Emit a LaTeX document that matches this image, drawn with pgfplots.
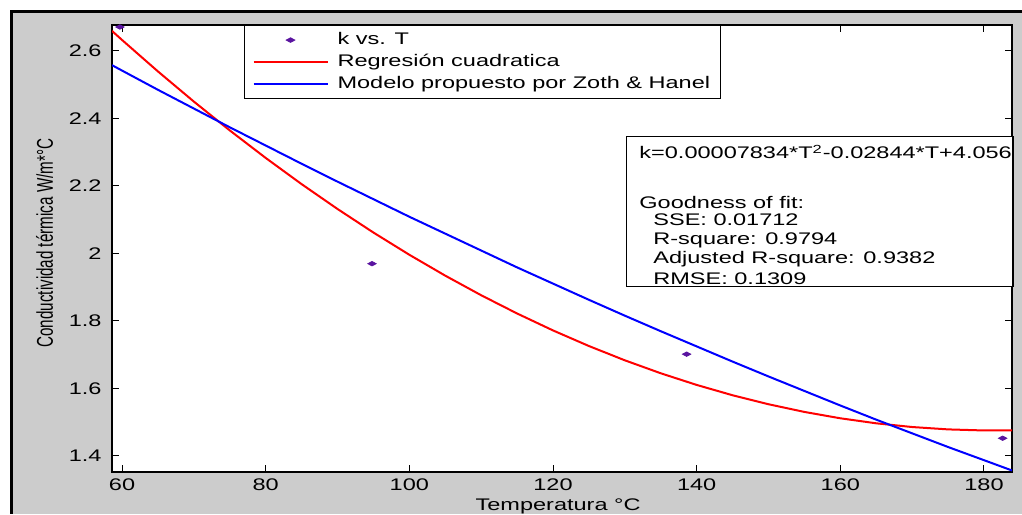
\documentclass[border=0pt]{standalone}
\usepackage{fontspec}
\setmainfont{Liberation Sans}[FakeStretch=1.4]
\newfontfamily\labelfont{Liberation Sans}
\usepackage{pgfplots}
\pgfplotsset{compat=1.18}

\definecolor{figgray}{RGB}{204,204,204}
\definecolor{markpurple}{RGB}{90,20,160}

\pgfplotsset{
  lineleg/.style={legend image code/.code={\draw[##1] (0pt,0pt) -- (37pt,0pt);}},
  markleg/.style={legend image code/.code={\draw[##1] plot coordinates {(18.5pt,0pt)};}},
}

\begin{document}
\begin{tikzpicture}[x=1pt,y=1pt]
\useasboundingbox (0,0) rectangle (511,257);
% window background and frame
\fill[white] (0,0) rectangle (511,257);
\fill[figgray] (6.5,0) rectangle (511,250.5);
\fill[black] (5,0) rectangle (6.5,252);
\fill[black] (5,250.5) rectangle (511,252);

\begin{axis}[
  at={(56pt,21pt)}, anchor=south west,
  width=450pt, height=223.5pt, scale only axis,
  xmin=58.6, xmax=183.9, ymin=1.352, ymax=2.676,
  xtick={60,80,100,120,140,160,180},
  ytick={1.4,1.6,1.8,2,2.2,2.4,2.6},
  tick align=inside, major tick length=3.5pt,
  every tick/.style={black, line width=0.5pt},
  axis line style={black, line width=0.9pt},
  axis background/.style={fill=white},
  /pgf/number format/assume math mode=true,
  ticklabel style={font=\fontsize{8.4}{10}\selectfont},
  yticklabel style={xshift=-1.7pt},
  xlabel={Temperatura °C},
  xlabel style={font=\fontsize{8.4}{10}\selectfont, at={(axis description cs:0.4956,-0.076)}, anchor=center},
  ylabel={\scalebox{1}[1.5]{\labelfont\fontsize{7.6}{9}\selectfont Conductividad térmica W/m*°C}},
  ylabel style={at={(axis description cs:-0.075,0.512)}, anchor=center, rotate=0},
  legend style={at={(rel axis cs:0.1467,1)}, anchor=north west,
    draw=black, line width=0.5pt, fill=white,
    font=\fontsize{8.4}{10}\selectfont,
    inner xsep=4pt, inner ysep=2.5pt, column sep=3.5pt, row sep=1.3pt,
    nodes={inner sep=1pt, text depth=0.15em}},
  legend cell align=left,
]

% measured points
\addplot[only marks, mark=diamond*, mark size=1.1pt, color=markpurple,
  mark options={xscale=2.5}, markleg]
  coordinates {(59.7,2.670) (94.8,1.969) (138.6,1.701) (182.6,1.452)};
\addlegendentry{k vs. T}

% quadratic fit
\addplot[red, line width=1pt, lineleg]
  coordinates {
  (58.6,2.6584) (60,2.6316) (65,2.5384) (70,2.4491) (75,2.3637)
  (80,2.2822) (85,2.2046) (90,2.1310) (95,2.0612) (100,1.9954)
  (105,1.9335) (110,1.8755) (115,1.8215) (120,1.7713) (125,1.7251)
  (130,1.6828) (135,1.6444) (140,1.6099) (145,1.5793) (150,1.5527)
  (155,1.5299) (160,1.5111) (165,1.4962) (170,1.4852) (175,1.4782)
  (180,1.4750) (183.9,1.4753)};
\addlegendentry{Regresión cuadratica}

% Zoth & Hanel model
\addplot[blue, line width=1pt, lineleg]
  coordinates {
  (58.6,2.557) (60,2.541) (65,2.484) (70,2.4285) (75,2.373)
  (80,2.319) (85,2.265) (90,2.212) (95,2.160) (100,2.108)
  (105,2.058) (110,2.008) (115,1.958) (120,1.910) (125,1.862)
  (130,1.815) (135,1.769) (140,1.724) (145,1.679) (150,1.635)
  (155,1.592) (160,1.549) (165,1.507) (170,1.4665) (175,1.426)
  (180,1.387) (183.9,1.3565)};
\addlegendentry{Modelo propuesto por Zoth \& Hanel}
\end{axis}

% fit summary box
\draw[black, line width=0.5pt, fill=white] (313,113.5) rectangle (506.5,188.5);
\draw[black, line width=1.2pt] (506.5,113.5) -- (506.5,188.5);
\begin{scope}[every node/.style={anchor=west, inner sep=0pt, font=\fontsize{8.4}{10}\selectfont}]
\node at (319.5,181) {k=0.00007834*T\textsuperscript{2}-0.02844*T+4.056};
\node at (319.5,156) {Goodness of fit:};
\node at (326.5,147) {SSE: 0.01712};
\node at (326.5,137) {R-square: 0.9794};
\node at (326.5,127.5) {Adjusted R-square: 0.9382};
\node at (326.5,117.5) {RMSE: 0.1309};
\end{scope}
\end{tikzpicture}
\end{document}
